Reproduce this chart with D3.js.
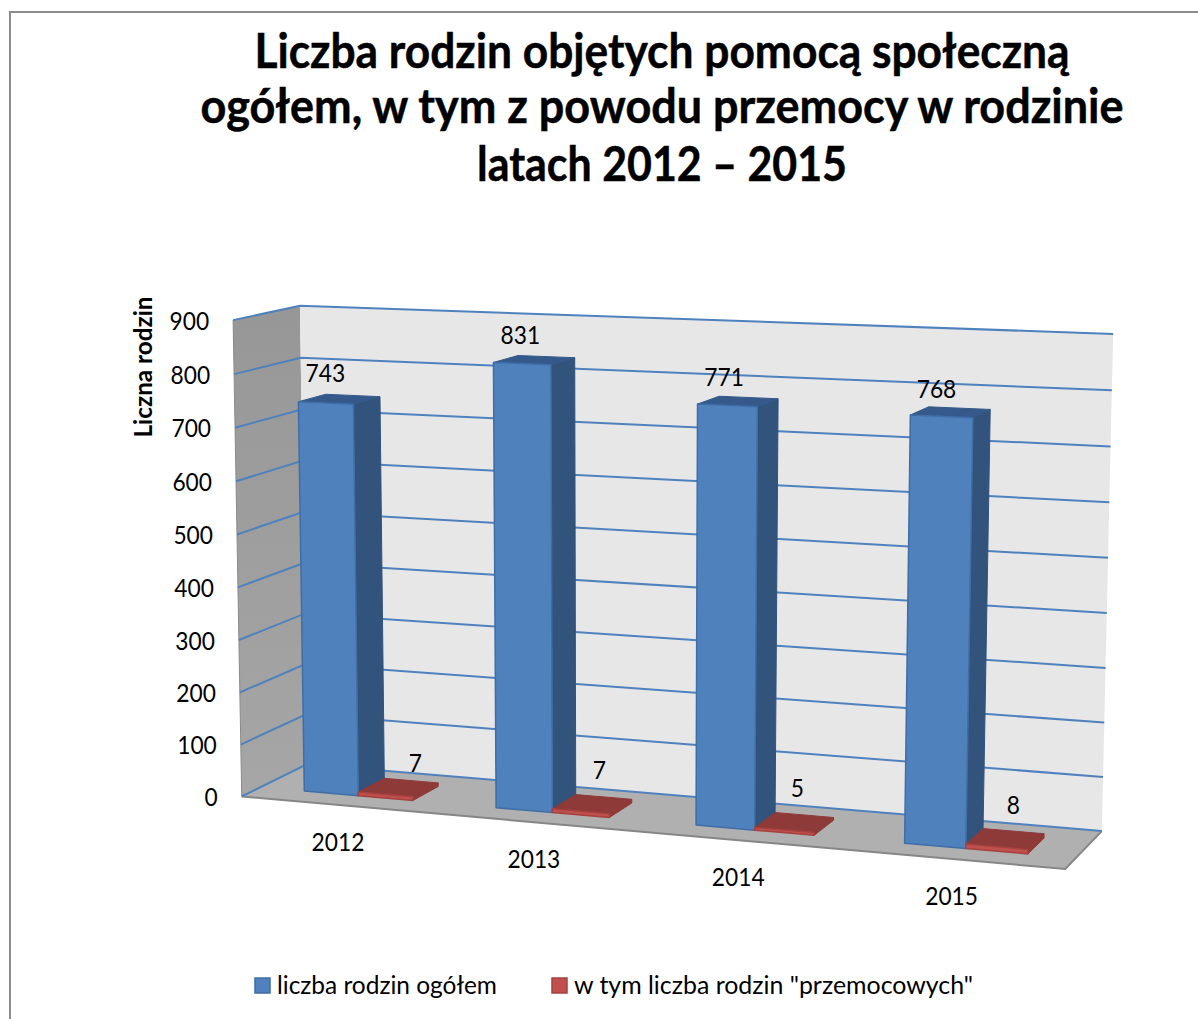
<!DOCTYPE html>
<html><head><meta charset="utf-8">
<style>html,body{margin:0;padding:0;background:#fff}svg{display:block}text{font-family:Lato,"Noto Sans",sans-serif;fill:#000}</style>
<script src="https://cdn.jsdelivr.net/npm/d3@7"></script></head><body>
<script>
const categories=["2012","2013","2014","2015"];
const seriesNames=["liczba rodzin ogółem",'w tym liczba rodzin "przemocowych"'];
const totalFamilies=[743,831,771,768];
const violenceFamilies=[7,7,5,8];
const yTicks=[0,100,200,300,400,500,600,700,800,900];
const titleLines=["Liczba rodzin objętych pomocą społeczną","ogółem, w tym z powodu przemocy w rodzinie","latach 2012 – 2015"];
const axisTitle="Liczna rodzin";

const W=1198,H=1019;
const svg=d3.select("body").append("svg").attr("width",W).attr("height",H);

// camera: world box [0,1]^3 (x along categories, y value, z depth) fitted to the box's visible corners
const anchors=[[0,0,0,243,796],[1,0,0,1065,870],[0,1,0,232,320],[0,0,1,305.5,765],[1,0,1,1102,830],[0,1,1,301,306],[1,1,1,1113,334],[1,4/9,1,1107,613],[0,4/9,0,238,587]];
function fitCamera(pts){
  const rows=[],rhs=[];
  for(const [X,Y,Z,x,y] of pts){
    rows.push([1,X,Y,Z,0,0,0,0,-x*X,-x*Y,-x*Z]);rhs.push(x);
    rows.push([0,0,0,0,1,X,Y,Z,-y*X,-y*Y,-y*Z]);rhs.push(y);
  }
  const n=11,A=d3.range(n).map(i=>d3.range(n+1).map(j=>{
    let s=0;rows.forEach((r,k)=>s+=r[i]*(j<n?r[j]:rhs[k]));return s;}));
  for(let c=0;c<n;c++){
    let p=c;for(let r=c+1;r<n;r++)if(Math.abs(A[r][c])>Math.abs(A[p][c]))p=r;
    [A[c],A[p]]=[A[p],A[c]];
    for(let r=0;r<n;r++)if(r!==c){const f=A[r][c]/A[c][c];for(let j=c;j<=n;j++)A[r][j]-=f*A[c][j];}
  }
  return A.map((r,i)=>r[n]/r[i]);
}
const m=fitCamera(anchors);
function project(X,Y,Z){
  const d=1+m[8]*X+m[9]*Y+m[10]*Z;
  return [(m[0]+m[1]*X+m[2]*Y+m[3]*Z)/d,(m[4]+m[5]*X+m[6]*Y+m[7]*Z)/d];
}
const line=d3.line().curve(d3.curveLinearClosed);
const open=d3.line();

const xCat=d3.scaleBand().domain(categories).range([0.005,0.999]);
const xSer=d3.scaleBand().domain([0,1]).range([0,xCat.bandwidth()]).paddingInner(0).paddingOuter(0.75);
const yVal=d3.scaleLinear().domain([0,900]).range([0,1]);
const zFront=0.28,zBack=0.70;

const defs=svg.append("defs");
const gw=defs.append("linearGradient").attr("id","wall").attr("x1",0).attr("x2",0).attr("y1",0).attr("y2",1);
gw.append("stop").attr("offset",0).attr("stop-color","#979797");
gw.append("stop").attr("offset",1).attr("stop-color","#a6a6a6");

// frame
svg.append("path").attr("d","M10,1019V12H1198").attr("fill","none").attr("stroke","#8c8c8c").attr("stroke-width",2);

// walls and floor
const box=svg.append("g");
box.append("path").attr("d",line([project(0,0,0),project(0,1,0),project(0,1,1),project(0,0,1)])).attr("fill","url(#wall)");
box.append("path").attr("d",line([project(0,0,1),project(0,1,1),project(1,1,1),project(1,0,1)])).attr("fill","#e7e7e7");
box.append("path").attr("d",line([project(0,0,0),project(0,0,1),project(1,0,1),project(1,0,0)])).attr("fill","#b0b0b0");
box.append("path").attr("d",open([project(0,0,0),project(1,0,0),project(1,0,1)])).attr("fill","none").attr("stroke","#868686").attr("stroke-width",2);
box.append("path").attr("d",open([project(0,0,0),project(0,1,0)])).attr("fill","none").attr("stroke","#8a8a8a").attr("stroke-width",1);

// gridlines
box.selectAll("path.grid").data(yTicks).join("path").attr("class","grid")
  .attr("d",v=>open([project(0,yVal(v),0),project(0,yVal(v),1),project(1,yVal(v),1)]))
  .attr("fill","none").attr("stroke","#4f81bd").attr("stroke-width",2);

// bars
const palettes=[
 {front:"#4f81bd",side:"#31537c",top:"#35598a",edge:"#3f6ea6"},
 {front:"#c0504d",side:"#8e3a38",top:"#8e3a38",edge:"#a5413f"}];
const barRows=[];
categories.forEach((c,i)=>{[totalFamilies[i],violenceFamilies[i]].forEach((v,s)=>barRows.push({c,i,s,v}));});
const barG=svg.append("g").selectAll("g").data(barRows).join("g");
function faces(d){
  const x0=xCat(d.c)+xSer(d.s),x1=x0+xSer.bandwidth(),y=yVal(d.v);
  return [
   {k:"side",p:[project(x1,0,zFront),project(x1,y,zFront),project(x1,y,zBack),project(x1,0,zBack)]},
   {k:"top",p:[project(x0,y,zFront),project(x1,y,zFront),project(x1,y,zBack),project(x0,y,zBack)]},
   {k:"front",p:[project(x0,0,zFront),project(x1,0,zFront),project(x1,y,zFront),project(x0,y,zFront)]}
  ].map(f=>({...f,s:d.s}));
}
barG.selectAll("path").data(faces).join("path")
  .attr("d",f=>line(f.p))
  .attr("fill",f=>palettes[f.s][f.k])
  .attr("stroke",f=>f.k==="front"?palettes[f.s].edge:palettes[f.s][f.k])
  .attr("stroke-width",f=>f.k==="front"?1.5:1).attr("stroke-linejoin","round");

const fit=(sel,perChar)=>sel.attr("textLength",d=>String(d.v??d).length*perChar).attr("lengthAdjust","spacingAndGlyphs");

// value labels
const labelOffset=[[[-14,-26],[-14,-25],[-14,-24],[-14,-23]],[[17,-24],[7,-34],[3,-34],[8,-33]]];
fit(svg.append("g").selectAll("text").data(barRows).join("text")
  .attr("transform",d=>{
    const p=project(xCat(d.c)+xSer(d.s)+xSer.bandwidth()/2,yVal(d.v),(zFront+zBack)/2);
    const o=labelOffset[d.s][d.i];
    return `translate(${p[0]+o[0]},${p[1]+o[1]})`;})
  .attr("text-anchor","middle").attr("font-size",24.5).attr("dy","0.35em").text(d=>d.v),13.2);

// y axis tick labels
fit(svg.append("g").selectAll("text").data(yTicks).join("text")
  .attr("x",v=>project(0,yVal(v),0)[0]-24).attr("y",v=>project(0,yVal(v),0)[1]+1)
  .attr("text-anchor","end").attr("dy","0.35em").attr("font-size",24.5).text(v=>v),13.2);

// category labels
fit(svg.append("g").selectAll("text").data(categories).join("text")
  .attr("x",c=>project(xCat(c)+xCat.bandwidth()/2,0,0)[0]-2.5)
  .attr("y",c=>project(xCat(c)+xCat.bandwidth()/2,0,0)[1]+37)
  .attr("text-anchor","middle").attr("dy","0.35em").attr("font-size",24.5).text(c=>c),13.2);

// axis title
svg.append("text").attr("transform","translate(144,367) rotate(-90)").attr("text-anchor","middle")
  .attr("dy","0.35em").attr("font-size",24).attr("font-weight",700).attr("textLength",141).attr("lengthAdjust","spacingAndGlyphs").text(axisTitle);

// title
const titleWidths=[815,923,370];
svg.append("g").selectAll("text").data(titleLines).join("text")
  .attr("x",662).attr("y",(d,i)=>[68,123,181][i]).attr("text-anchor","middle")
  .attr("font-size",48).attr("font-weight",700).attr("stroke","#000").attr("stroke-width",0.5)
  .attr("textLength",(d,i)=>titleWidths[i]).attr("lengthAdjust","spacingAndGlyphs").text(d=>d);

// legend
const legendX=[[255,277],[552,574]];
const legendWidths=[220,399];
const lg=svg.append("g").selectAll("g").data(seriesNames).join("g");
lg.append("rect").attr("x",(d,i)=>legendX[i][0]).attr("y",978).attr("width",15).attr("height",15)
  .attr("fill",(d,i)=>palettes[i].front).attr("stroke",(d,i)=>palettes[i].edge).attr("stroke-width",1.5);
lg.append("text").attr("x",(d,i)=>legendX[i][1]).attr("y",994).attr("font-size",24.5)
  .attr("textLength",(d,i)=>legendWidths[i]).attr("lengthAdjust","spacingAndGlyphs").text(d=>d);
</script></body></html>
